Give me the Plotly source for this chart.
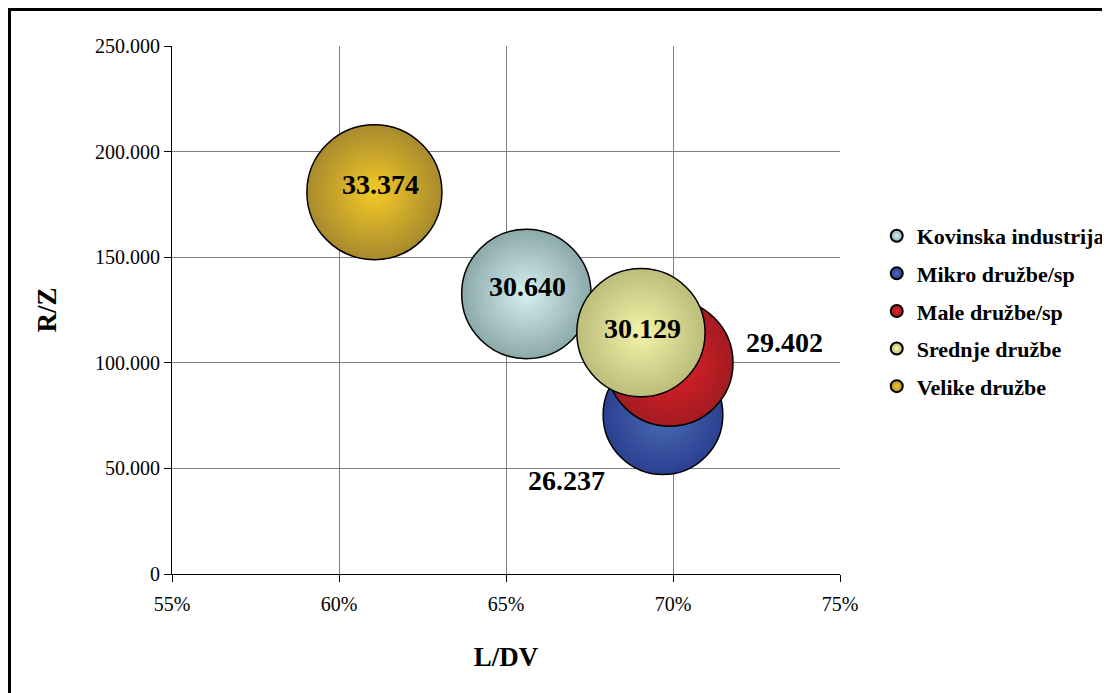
import plotly.graph_objects as go

# ---- data ----
names = ["Kovinska industrija", "Mikro družbe/sp", "Male družbe/sp", "Srednje družbe", "Velike družbe"]
ldv = [0.6561, 0.6970, 0.6990, 0.6904, 0.6106]          # L/DV (x)
rz = [132600, 75400, 100000, 114300, 180800]             # R/Z (y)
bubble = [30640, 26237, 29402, 30129, 33374]             # bubble size value
bubble_labels = ["30.640", "26.237", "29.402", "30.129", "33.374"]
x_ticks = [0.55, 0.60, 0.65, 0.70, 0.75]
y_ticks = [0, 50000, 100000, 150000, 200000, 250000]

# ---- style ----
edge_colors = ["#8CA9AA", "#2B4090", "#A31B21", "#BDBD7C", "#A88A2E"]
center_colors = ["#D6EFF1", "#4A6BB6", "#E5202A", "#F3F3A8", "#F4CA26"]
label_shift = {  # (xshift, yshift) in px
    "Kovinska industrija": (1, 7),
    "Mikro družbe/sp": (-96, -66),
    "Male družbe/sp": (115, 20),
    "Srednje družbe": (2, 4),
    "Velike družbe": (6, 8),
}
SERIF = "Liberation Serif, Times New Roman, serif"
max_r = 67.5
sizeref = max(bubble) / 2.0 / max_r ** 2

W, H = 1102, 685
L, T, R, B = 164, 38, 270, 119
PW, PH = W - L - R, H - T - B

fig = go.Figure()
for i, n in enumerate(names):
    fig.add_trace(go.Scatter(
        x=[ldv[i]], y=[rz[i]], name=n, mode="markers",
        legendgroup=n,
        marker=dict(size=[bubble[i]], sizemode="area", sizeref=sizeref,
                    color=edge_colors[i],
                    gradient=dict(type="radial", color=center_colors[i]),
                    line=dict(color="black", width=1.5), opacity=1),
        hoverinfo="skip",
    ))

annotations = []
for i, n in enumerate(names):
    dx, dy = label_shift[n]
    annotations.append(dict(x=ldv[i], y=rz[i], xref="x", yref="y", text=bubble_labels[i],
                            showarrow=False, xshift=dx, yshift=dy,
                            font=dict(family=SERIF, size=28, color="black", weight="bold")))

fig.update_layout(
    width=W, height=H,
    margin=dict(l=L, r=R, t=T, b=B, autoexpand=False),
    paper_bgcolor="white", plot_bgcolor="white",
    separators=",.",
    showlegend=True,
    legend=dict(x=1.055, y=0.68, xanchor="left", yanchor="top",
                font=dict(family=SERIF, size=22, color="black", weight="bold"),
                itemsizing="constant", tracegroupgap=6, bgcolor="rgba(0,0,0,0)"),
    annotations=annotations,
    shapes=[dict(type="rect", xref="paper", yref="paper",
                 x0=(1.5 - L) / PW, x1=1.6, y0=-0.5, y1=1 + (T - 1.5) / PH,
                 line=dict(color="black", width=3), fillcolor="rgba(0,0,0,0)", layer="below")],
)
fig.update_xaxes(range=[0.55, 0.75], tickvals=x_ticks, tickformat=".0%",
                 showgrid=True, gridcolor="#7F7F7F", gridwidth=1,
                 showline=True, linecolor="black", linewidth=1,
                 ticks="outside", ticklen=7, tickcolor="black", zeroline=False,
                 ticklabelstandoff=5,
                 tickfont=dict(family=SERIF, size=20, color="black"),
                 title=dict(text="L/DV", standoff=33,
                            font=dict(family=SERIF, size=27, color="black", weight="bold")))
fig.update_yaxes(range=[0, 250000], tickvals=y_ticks, tickformat=",d",
                 showgrid=True, gridcolor="#7F7F7F", gridwidth=1,
                 showline=True, linecolor="black", linewidth=1,
                 ticks="outside", ticklen=7, tickcolor="black", zeroline=False,
                 tickfont=dict(family=SERIF, size=20, color="black"),
                 title=dict(text="R/Z", standoff=30,
                            font=dict(family=SERIF, size=27, color="black", weight="bold")))

fig.write_html("out.html")
